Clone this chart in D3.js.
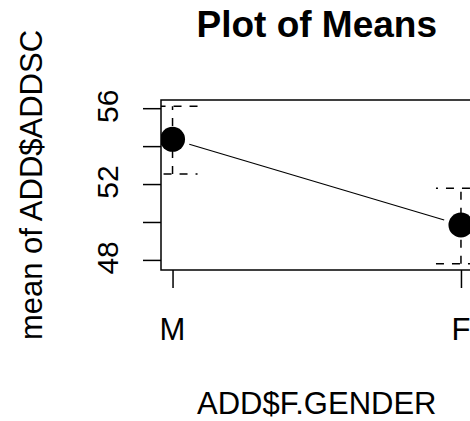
<!DOCTYPE html>
<html>
<head>
<meta charset="utf-8">
<script src="https://cdn.jsdelivr.net/npm/d3@7"></script>
<style>
  body { margin: 0; background: #fff; }
  svg { display: block; }
  text { font-family: "Liberation Sans", Arial, sans-serif; fill: #000; }
</style>
</head>
<body>
<div id="graphicContainer"></div>
<script>

// group levels and the means with their interval ends
var groups = ["M", "F"]
var means = [54.36, 49.84]
var lower = [52.53, 47.80]
var upper = [56.10, 51.78]

var yTicks = [48, 50, 52, 54, 56]
var yLabels = [48, 52, 56]

var width = 470
var height = 421

// plot region (right edge runs past the picture like the original)
var plot = {left: 161, right: 472.5, top: 100, bottom: 270}

var svg = d3.select("#graphicContainer").append("svg")
	.attr("width", width)
	.attr("height", height)

svg.append("rect")
	.attr("width", width)
	.attr("height", height)
	.attr("fill", "#fff")

// R style 4% extension on both axes
var xPad = (groups.length - 1) * 0.04
var x = d3.scaleLinear()
	.domain([1 - xPad, groups.length + xPad])
	.range([plot.left, plot.right])

var yMin = d3.min(lower), yMax = d3.max(upper)
var yPad = (yMax - yMin) * 0.04
var y = d3.scaleLinear()
	.domain([yMin - yPad, yMax + yPad])
	.range([plot.bottom, plot.top])

var data = groups.map(function(g, i) {
	return {group: g, pos: i + 1, mean: means[i], lower: lower[i], upper: upper[i]}
})

svg.append("defs").append("clipPath")
	.attr("id", "plotClip")
	.append("rect")
	.attr("x", plot.left)
	.attr("y", plot.top)
	.attr("width", plot.right - plot.left)
	.attr("height", plot.bottom - plot.top)

// axes
var yAxis = d3.axisLeft(y)
	.tickValues(yTicks)
	.tickSize(18)
	.tickFormat("")

var gy = svg.append("g")
	.attr("transform", "translate(" + plot.left + ",0)")
	.call(yAxis)
gy.select(".domain").remove()
gy.selectAll("line").attr("stroke", "#000").attr("stroke-width", 1.5)

var xAxis = d3.axisBottom(x)
	.tickValues(data.map((d) => d.pos))
	.tickSize(18)
	.tickFormat("")

var gx = svg.append("g")
	.attr("transform", "translate(0," + plot.bottom + ")")
	.call(xAxis)
gx.select(".domain").remove()
gx.selectAll("line").attr("stroke", "#000").attr("stroke-width", 1.5)

// y tick labels, rotated
svg.selectAll(".ylab")
	.data(yLabels)
	.enter()
	.append("text")
	.attr("class", "ylab")
	.attr("transform", (d) => "translate(118," + (y(d) - 2) + ")rotate(-90)")
	.attr("text-anchor", "middle")
	.attr("font-size", 30)
	.text((d) => d)

// x tick labels
svg.selectAll(".xlab")
	.data(data)
	.enter()
	.append("text")
	.attr("class", "xlab")
	.attr("x", (d) => x(d.pos))
	.attr("y", 340)
	.attr("text-anchor", "middle")
	.attr("font-size", 31)
	.text((d) => d.group)

// plot contents
var inner = svg.append("g").attr("clip-path", "url(#plotClip)")

var capLen = 25

// interval shafts, dashes start from the lower end
inner.selectAll(".shaft")
	.data(data)
	.enter()
	.append("line")
	.attr("x1", (d) => x(d.pos))
	.attr("x2", (d) => x(d.pos))
	.attr("y1", (d) => y(d.lower))
	.attr("y2", (d) => y(d.upper))
	.attr("stroke", "#000")
	.attr("stroke-width", 1.5)
	.attr("stroke-dasharray", "8,8")

// caps
inner.selectAll(".capTop")
	.data(data)
	.enter()
	.append("line")
	.attr("x1", (d) => x(d.pos) + capLen)
	.attr("x2", (d) => x(d.pos) - capLen)
	.attr("y1", (d) => y(d.upper))
	.attr("y2", (d) => y(d.upper))
	.attr("stroke", "#000")
	.attr("stroke-width", 1.5)
	.attr("stroke-dasharray", "8,8")

inner.selectAll(".capBottom")
	.data(data)
	.enter()
	.append("line")
	.attr("x1", (d) => x(d.pos) - capLen)
	.attr("x2", (d) => x(d.pos) + capLen)
	.attr("y1", (d) => y(d.lower))
	.attr("y2", (d) => y(d.lower))
	.attr("stroke", "#000")
	.attr("stroke-width", 1.5)
	.attr("stroke-dasharray", "8,8")

// line between means with gaps round the points (type = "b")
var gap = 17.5
for (var i = 0; i < data.length - 1; i++) {
	var x0 = x(data[i].pos), y0 = y(data[i].mean)
	var x1 = x(data[i + 1].pos), y1 = y(data[i + 1].mean)
	var len = Math.sqrt((x1 - x0) * (x1 - x0) + (y1 - y0) * (y1 - y0))
	var ux = (x1 - x0) / len, uy = (y1 - y0) / len
	inner.append("line")
		.attr("x1", x0 + ux * gap)
		.attr("y1", y0 + uy * gap)
		.attr("x2", x1 - ux * gap)
		.attr("y2", y1 - uy * gap)
		.attr("stroke", "#000")
		.attr("stroke-width", 1.2)
}

inner.selectAll(".pt")
	.data(data)
	.enter()
	.append("circle")
	.attr("cx", (d) => x(d.pos))
	.attr("cy", (d) => y(d.mean))
	.attr("r", 12.5)
	.attr("fill", "#000")

// box
svg.append("rect")
	.attr("x", plot.left)
	.attr("y", plot.top)
	.attr("width", plot.right - plot.left)
	.attr("height", plot.bottom - plot.top)
	.attr("fill", "none")
	.attr("stroke", "#000")
	.attr("stroke-width", 1.5)

// titles
svg.append("text")
	.attr("x", (plot.left + plot.right) / 2)
	.attr("y", 37)
	.attr("text-anchor", "middle")
	.attr("font-size", 37)
	.attr("font-weight", "bold")
	.text("Plot of Means")

svg.append("text")
	.attr("x", (plot.left + plot.right) / 2)
	.attr("y", 414)
	.attr("text-anchor", "middle")
	.attr("font-size", 31)
	.text("ADD$F.GENDER")

svg.append("text")
	.attr("transform", "translate(42," + ((plot.top + plot.bottom) / 2) + ")rotate(-90)")
	.attr("text-anchor", "middle")
	.attr("font-size", 31)
	.text("mean of ADD$ADDSC")

</script>
</body>
</html>
